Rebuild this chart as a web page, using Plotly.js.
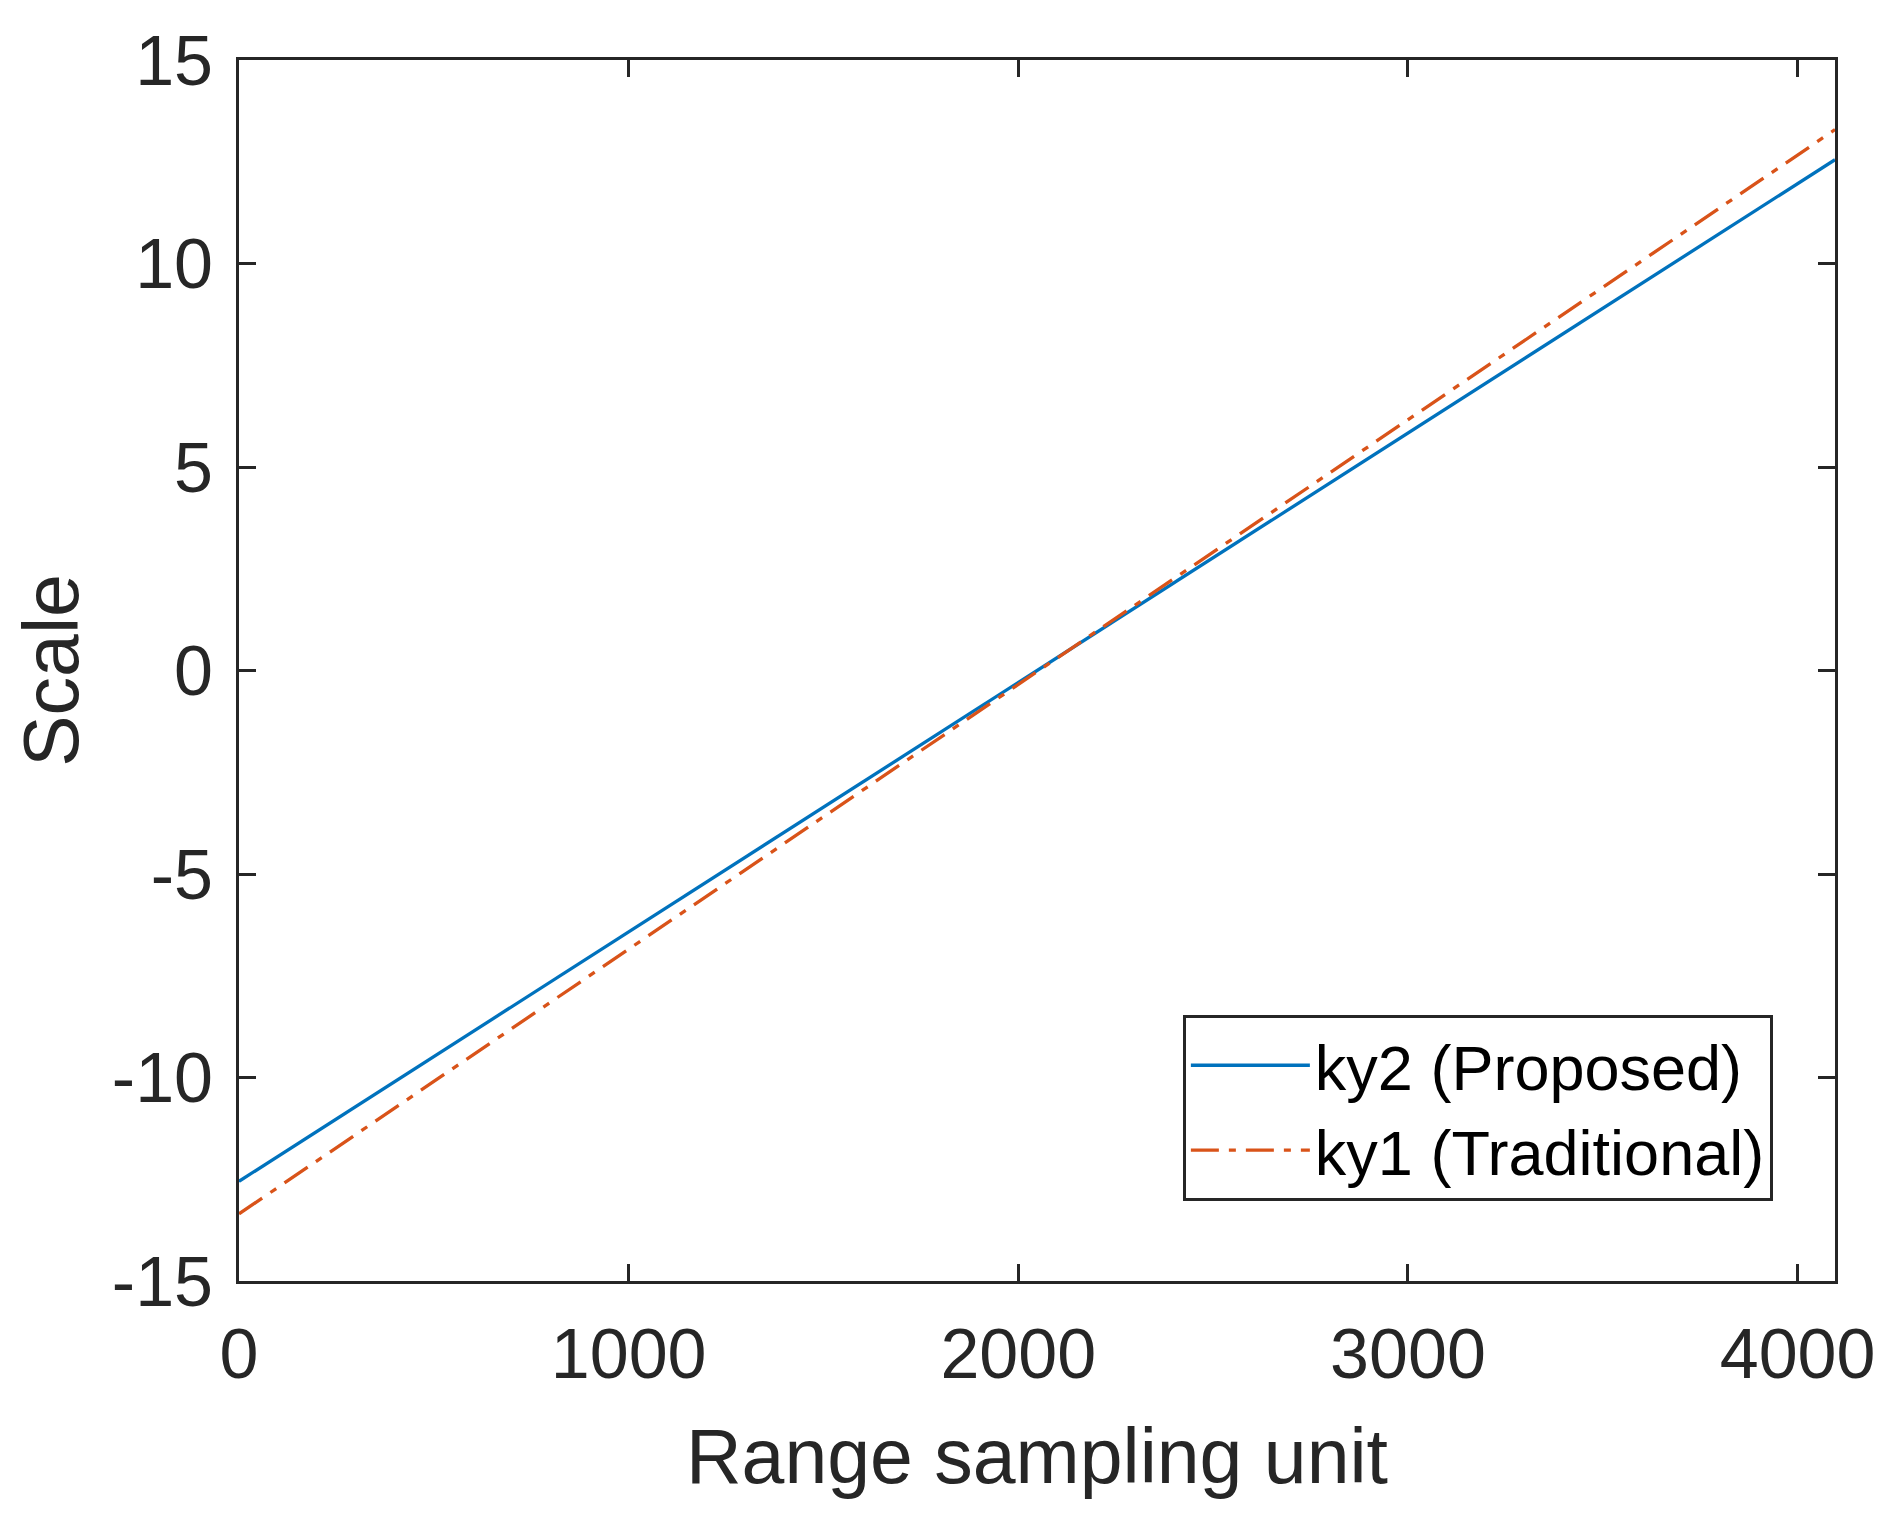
<!DOCTYPE html>
<html>
<head>
<meta charset="utf-8">
<script src="https://cdn.plot.ly/plotly-3.0.1.min.js"></script>
<style>html,body{margin:0;padding:0;background:#fff;}#chart{width:1899px;height:1528px;}</style>
</head>
<body>
<div id="chart"></div>
<script>
// Data
const seriesNames = ["ky2 (Proposed)", "ky1 (Traditional)"];
const proposedX = [0, 4096];
const proposedY = [-12.55, 12.55];
const traditionalX = [0, 4096];
const traditionalY = [-13.35, 13.29];
const xTickVals = [0, 1000, 2000, 3000, 4000];
const yTickVals = [-15, -10, -5, 0, 5, 10, 15];
const xTitle = "Range sampling unit";
const yTitle = "Scale";

const axisColor = "#262626";
const fontFamily = "Liberation Sans, Arial, Helvetica, sans-serif";

const traces = [
  {x: proposedX, y: proposedY, name: seriesNames[0], type: "scatter", mode: "lines", line: {color: "#0072BD", width: 3.3}},
  {x: traditionalX, y: traditionalY, name: seriesNames[1], type: "scatter", mode: "lines", line: {color: "#D95319", width: 3.3, dash: "28px,10px,7px,10px"}}
];

const commonAxis = {
  showline: true, linecolor: axisColor, linewidth: 3, mirror: "ticks",
  ticks: "inside", ticklen: 17, tickwidth: 3, tickcolor: axisColor,
  showgrid: false, zeroline: false,
  tickfont: {family: fontFamily, size: 70, color: axisColor}
};

const layout = {
  width: 1899, height: 1528,
  paper_bgcolor: "#ffffff", plot_bgcolor: "#ffffff",
  margin: {l: 239, r: 64, t: 60, b: 247},
  font: {family: fontFamily, color: axisColor},
  xaxis: Object.assign({}, commonAxis, {
    range: [0, 4096], tickvals: xTickVals, ticktext: xTickVals.map(String), ticklabelstandoff: 10,
    title: {text: xTitle, font: {family: fontFamily, size: 77, color: axisColor}, standoff: 38}
  }),
  yaxis: Object.assign({}, commonAxis, {
    range: [-15, 15], tickvals: yTickVals, ticktext: yTickVals.map(String), ticklabelstandoff: 9,
    title: {text: yTitle, font: {family: fontFamily, size: 77, color: axisColor}, standoff: 8}
  }),
  showlegend: true,
  legend: {
    x: 0.5914, y: 0.218, xanchor: "left", yanchor: "top",
    bgcolor: "#ffffff", bordercolor: axisColor, borderwidth: 3,
    font: {family: fontFamily, size: 63, color: "#000000"},
    itemwidth: 119, tracegroupgap: 0
  }
};

Plotly.newPlot("chart", traces, layout, {staticPlot: true, displayModeBar: false});
</script>
</body>
</html>
